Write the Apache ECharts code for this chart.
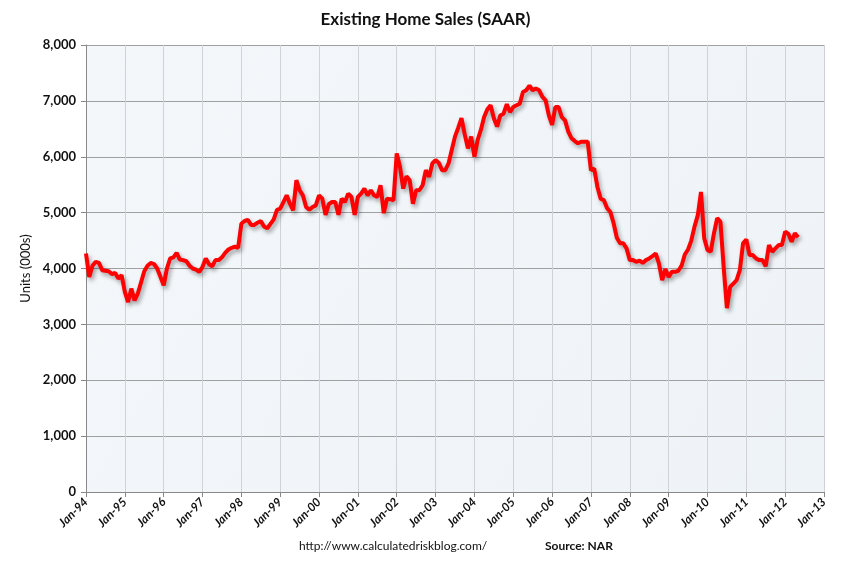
<!DOCTYPE html>
<html>
<head>
<meta charset="utf-8">
<script src="https://cdn.jsdelivr.net/npm/echarts@6/dist/echarts.min.js"></script>
<style>
html,body{margin:0;padding:0;background:#fff;}
#c{width:851px;height:561px;}
</style>
</head>
<body>
<div id="c"></div>
<script>
// Monthly existing home sales, SAAR, thousands
const years = ['94','95','96','97','98','99','00','01','02','03','04','05','06','07','08','09','10','11','12','13'];
const monthNames = ['Jan','Feb','Mar','Apr','May','Jun','Jul','Aug','Sep','Oct','Nov','Dec'];
const s1994 = [4270,3850,4050,4120,4100,3970,3960,3950,3900,3920,3820,3880];
const s1995 = [3580,3400,3640,3430,3550,3750,3950,4050,4100,4080,4000,3850];
const s1996 = [3700,4000,4180,4200,4280,4160,4150,4130,4050,4000,3980,3940];
const s1997 = [4030,4180,4080,4040,4150,4150,4200,4280,4340,4370,4390,4370];
const s1998 = [4800,4850,4870,4780,4780,4820,4850,4750,4720,4800,4880,5050];
const s1999 = [5070,5190,5310,5160,5040,5580,5400,5310,5100,5050,5100,5130];
const s2000 = [5310,5250,4960,5150,5190,5190,4960,5250,5190,5340,5280,4960];
const s2001 = [5280,5340,5430,5310,5400,5310,5280,5490,4990,5250,5240,5220];
const s2002 = [6060,5820,5430,5650,5580,5160,5400,5400,5490,5760,5640,5880];
const s2003 = [5940,5890,5760,5760,5880,6120,6360,6520,6690,6400,6150,6360];
const s2004 = [6000,6300,6480,6710,6850,6920,6690,6540,6740,6770,6940,6800];
const s2005 = [6890,6920,6950,7160,7190,7270,7190,7220,7190,7070,7010,6740];
const s2006 = [6570,6890,6890,6710,6650,6450,6330,6280,6240,6270,6270,6270];
const s2007 = [5760,5790,5460,5250,5220,5080,5010,4810,4550,4450,4450,4360];
const s2008 = [4150,4150,4120,4140,4100,4150,4180,4220,4270,4090,3790,3990];
const s2009 = [3850,3940,3940,3960,4050,4250,4340,4500,4750,4950,5370,4540];
const s2010 = [4330,4300,4630,4900,4840,4030,3290,3670,3730,3790,3970,4450];
const s2011 = [4520,4240,4240,4180,4150,4150,4040,4420,4300,4360,4420,4420];
const s2012 = [4660,4620,4480,4630,4560];
const yTicks = [0,1000,2000,3000,4000,5000,6000,7000,8000];

const sales = [].concat(s1994,s1995,s1996,s1997,s1998,s1999,s2000,s2001,s2002,s2003,
  s2004,s2005,s2006,s2007,s2008,s2009,s2010,s2011,s2012);

const categories = [];
years.forEach((y, i) => {
  const n = (i === years.length - 1) ? 1 : 12;
  for (let m = 0; m < n; m++) categories.push(monthNames[m] + '-' + y);
});

const yearStart = (idx) => idx % 12 === 0;
const font = 'Lato, "Open Sans", sans-serif';

const chart = echarts.init(document.getElementById('c'));
chart.setOption({
  animation: false,
  backgroundColor: '#ffffff',
  title: {
    text: 'Existing Home Sales (SAAR)',
    left: 'center',
    top: 6,
    textStyle: {fontFamily: font, fontSize: 17, fontWeight: 'bold', color: '#111'}
  },
  graphic: [
    {type: 'text', left: 299, top: 540,
     style: {text: 'http://www.calculatedriskblog.com/', font: '12px ' + font, fill: '#111'}},
    {type: 'text', left: 545, top: 540,
     style: {text: 'Source: NAR', font: 'bold 12px ' + font, fill: '#111'}}
  ],
  grid: {
    left: 86, right: 27, top: 45, bottom: 69,
    show: true,
    backgroundColor: {
      type: 'linear', x: 0, y: 0, x2: 1, y2: 1,
      colorStops: [{offset: 0, color: '#f4f7fa'}, {offset: 1, color: '#eef3f7'}]
    },
    borderWidth: 0
  },
  xAxis: {
    type: 'category',
    data: categories,
    boundaryGap: false,
    axisLine: {lineStyle: {color: '#888', width: 1}},
    axisTick: {show: true, interval: yearStart, length: 5, lineStyle: {color: '#888'}},
    axisLabel: {
      interval: yearStart,
      rotate: 45,
      fontFamily: font,
      fontSize: 12,
      fontStyle: 'italic',
      fontWeight: 'bold',
      color: '#111',
      margin: 8
    },
    splitLine: {show: true, interval: yearStart, lineStyle: {color: '#cfd3d8', width: 1}}
  },
  yAxis: {
    type: 'value',
    min: 0, max: 8000, interval: 1000,
    name: 'Units (000s)',
    nameLocation: 'middle',
    nameGap: 52,
    nameTextStyle: {fontFamily: font, fontSize: 13, color: '#111'},
    axisLine: {show: true, lineStyle: {color: '#888'}},
    axisTick: {show: true, length: 5, lineStyle: {color: '#888'}},
    axisLabel: {
      fontFamily: font, fontSize: 13, fontWeight: 'bold', color: '#111', margin: 10,
      formatter: (v) => yTicks.indexOf(v) >= 0 ? v.toLocaleString('en-US') : ''
    },
    splitLine: {show: true, lineStyle: {color: '#a0a0a0', width: 1}}
  },
  series: [{
    type: 'line',
    data: sales,
    showSymbol: false,
    smooth: false,
    lineStyle: {
      color: '#ff0000', width: 4,
      shadowColor: 'rgba(0,0,0,0.35)', shadowBlur: 4, shadowOffsetX: 2, shadowOffsetY: 3
    },
    itemStyle: {color: '#ff0000'}
  }]
});
</script>
</body>
</html>
